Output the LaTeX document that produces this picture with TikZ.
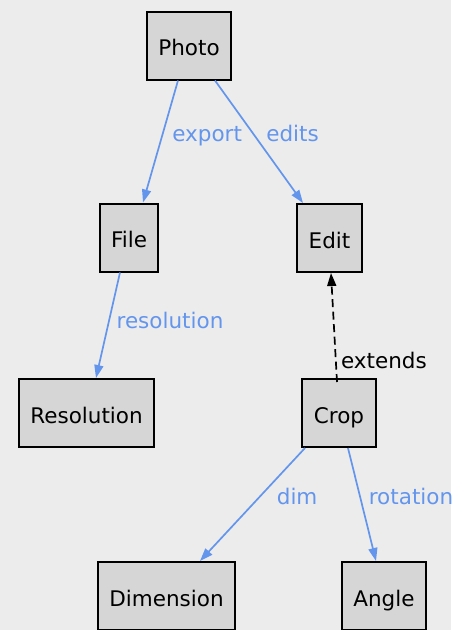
\documentclass[tikz,border=0pt]{standalone}
\usepackage{fontspec}
\setmainfont{DejaVu Sans}
\usetikzlibrary{arrows.meta}
\definecolor{bggray}{HTML}{ECECEC}
\definecolor{boxgray}{HTML}{D6D6D6}
\definecolor{relblue}{HTML}{6495ED}
\begin{document}
\begin{tikzpicture}[x = 1pt, y = 1pt,
	font = \fontsize{21.5}{26}\selectfont,
	class/.style = {draw, fill = boxgray, line width = 2pt, inner xsep = 11.5pt, text height = 20pt, text depth = 0pt, minimum height = 68pt},
	rel/.style = {relblue, line width = 1.7pt, -{Triangle[length = 13pt, width = 9pt]}},
	ext/.style = {black, line width = 1.7pt, dash pattern = on 8pt off 4.5pt, -{Triangle[length = 13pt, width = 9pt]}},
	lbl/.style = {anchor = base west, inner sep = 2pt}]
	\useasboundingbox[fill = bggray] (0,0) rectangle (451,-630);
	\node[class] (photo) at (189,-45.5) {Photo};
	\node[class] (file) at (129,-237.5) {File};
	\node[class] (edit) at (329.5,-238) {Edit};
	\node[class] (resolution) at (86.5,-413) {Resolution};
	\node[class] (crop) at (339,-413) {Crop};
	\node[class] (dimension) at (166.5,-596) {Dimension};
	\node[class] (angle) at (384,-596) {Angle};
	\draw[rel] ([xshift = -11pt]photo.south) -- ([xshift = 14pt]file.north)
		node[lbl, relblue, pos = 0.5, xshift = 9pt] {export};
	\draw[rel] ([xshift = 26pt]photo.south) -- ([xshift = -26.5pt]edit.north)
		node[lbl, relblue, pos = 0.5, xshift = 4.5pt] {edits};
	\draw[rel] ([xshift = -9pt]file.south) -- ([xshift = 9.5pt]resolution.north)
		node[lbl, relblue, pos = 0.53, xshift = 6.5pt] {resolution};
	\draw[ext] ([xshift = -2pt, yshift = -4pt]crop.north) -- ([xshift = 1.5pt]edit.south)
		node[lbl, black, pos = 0.12, xshift = 2pt] {extends};
	\draw[rel] ([xshift = -34pt]crop.south) -- ([xshift = 33.5pt]dimension.north)
		node[lbl, relblue, pos = 0.5, xshift = 21.5pt] {dim};
	\draw[rel] ([xshift = 9pt]crop.south) -- ([xshift = -8pt]angle.north)
		node[lbl, relblue, pos = 0.5, xshift = 4pt] {rotation};
\end{tikzpicture}
\end{document}
